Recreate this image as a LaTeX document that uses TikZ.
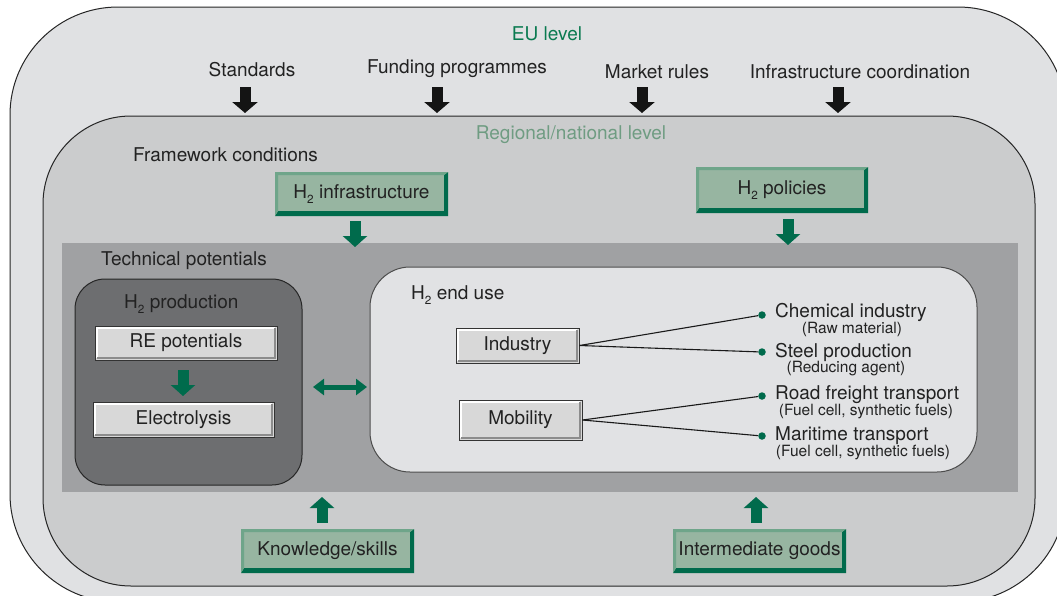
\documentclass[tikz,border=0pt]{standalone}
\usepackage{fontspec}
\setmainfont{TeX Gyre Heros}
\usetikzlibrary{arrows.meta}
\definecolor{outerg}{HTML}{E0E1E3}
\definecolor{innerg}{HTML}{CBCCCD}
\definecolor{techg}{HTML}{A0A1A3}
\definecolor{prodg}{HTML}{6D6E70}
\definecolor{endg}{HTML}{E1E2E4}
\definecolor{boxg}{HTML}{D8D8D8}
\definecolor{gfill}{HTML}{97B5A1}
\definecolor{gdark}{HTML}{006B4C}
\definecolor{glight}{HTML}{6FA58A}
\definecolor{eutxt}{HTML}{0A7A50}
\definecolor{regtxt}{HTML}{6F9C82}
\definecolor{txt}{HTML}{222222}
\newcommand{\Htwo}{H\raisebox{-0.45ex}{\scalebox{0.62}{2}}}
\tikzset{
  lbl/.style={font=\fontsize{19}{22}\selectfont, text=txt, inner sep=0pt, yshift=-2pt},
  sml/.style={font=\fontsize{15.5}{18}\selectfont, text=txt, inner sep=0pt, yshift=-1pt},
  region/.style={draw=black!85, line width=1pt},
  gbox/.style={fill=gfill, inner sep=0pt, font=\fontsize{19}{22}\selectfont, text=txt,
    path picture={
      \fill[gdark] (path picture bounding box.south west) -- (path picture bounding box.south east)
        -- (path picture bounding box.north east) -- ([xshift=-4pt,yshift=-3pt]path picture bounding box.north east)
        -- ([xshift=-4pt,yshift=5pt]path picture bounding box.south east) -- ([xshift=3pt,yshift=5pt]path picture bounding box.south west) -- cycle;
      \fill[glight] (path picture bounding box.south west) -- (path picture bounding box.north west)
        -- (path picture bounding box.north east) -- ([xshift=-4pt,yshift=-3pt]path picture bounding box.north east)
        -- ([xshift=3pt,yshift=-3pt]path picture bounding box.north west) -- ([xshift=3pt,yshift=5pt]path picture bounding box.south west) -- cycle;
    }},
  graybox/.style={fill=boxg, draw=black!80, line width=1pt, inner sep=0pt, font=\fontsize{19}{22}\selectfont, text=txt,
    path picture={
      \draw[white, line width=2.5pt] ([xshift=1.8pt,yshift=1.8pt]path picture bounding box.south west)
        -- ([xshift=1.8pt,yshift=-1.8pt]path picture bounding box.north west) -- ([xshift=-1.8pt,yshift=-1.8pt]path picture bounding box.north east);
      \draw[black!45, line width=2.5pt] ([xshift=1.8pt,yshift=1.8pt]path picture bounding box.south west)
        -- ([xshift=-1.8pt,yshift=1.8pt]path picture bounding box.south east) -- ([xshift=-1.8pt,yshift=-1.8pt]path picture bounding box.north east);
    }},
  dot/.style={circle, fill=gdark, minimum size=7.5pt, inner sep=0pt},
  link/.style={draw=black!90, line width=1.1pt},
  blk/.style={draw=black!92, line width=11pt, -{Triangle[width=25pt,length=11pt]}},
  grn/.style={draw=gdark, line width=11pt, -{Triangle[width=24pt,length=11pt]}},
  dbl/.style={draw=gdark, line width=5pt, {Triangle[width=16pt,length=11pt]}-{Triangle[width=16pt,length=11pt]}},
}
\begin{document}
\begin{tikzpicture}[x=1pt,y=-1pt]
\useasboundingbox (0,0) rectangle (1057,595);
\clip (0,0) rectangle (1057,595);
% regions
\draw[region, fill=outerg, rounded corners=108pt] (10,7) rectangle (1066,602);
\draw[region, fill=innerg, rounded corners=88pt] (43,116) rectangle (1035,586);
\fill[techg] (62,243) rectangle (1018,492);
\draw[region, fill=prodg, rounded corners=30pt] (75,279) rectangle (302,485);
\draw[region, draw=black!70, fill=endg, rounded corners=40pt] (370,267) rectangle (977,472);

% titles
\node[lbl, text=eutxt] (eu) at (547,32) {EU level};
\node[lbl, text=regtxt] (reg) at (571,133) {Regional/national level};
\node[lbl, anchor=west] (fw) at (133,153) {Framework conditions};
\node[lbl, anchor=west] (tp) at (101,259) {Technical potentials};
\node[lbl, anchor=west] (prod) at (124,302) {\Htwo{} production};
\node[lbl, anchor=west] (eus) at (411,293) {\Htwo{} end use};

% EU items
\node[lbl] (std) at (252,68) {Standards};
\node[lbl] (fund) at (457,67) {Funding programmes};
\node[lbl] (mkt) at (657,70) {Market rules};
\node[lbl] (infc) at (860,70) {Infrastructure coordination};
\coordinate (a1s) at (245,87); \coordinate (a1e) at (245,113);
\coordinate (a2s) at (437,87); \coordinate (a2e) at (437,113);
\coordinate (a3s) at (642,87); \coordinate (a3e) at (642,113);
\coordinate (a4s) at (838,87); \coordinate (a4e) at (838,113);
\draw[blk] (a1s) -- (a1e);
\draw[blk] (a2s) -- (a2e);
\draw[blk] (a3s) -- (a3e);
\draw[blk] (a4s) -- (a4e);

% green boxes
\node[gbox, minimum width=173pt, minimum height=44pt] (infra) at (361.5,194) {\Htwo{} infrastructure};
\node[gbox, minimum width=172pt, minimum height=46pt] (pol) at (782,190) {\Htwo{} policies};
\node[gbox, minimum width=173pt, minimum height=44pt] (know) at (327.5,551) {Knowledge/skills};
\node[gbox, minimum width=173pt, minimum height=44pt] (inter) at (759.5,551) {Intermediate goods};
\coordinate (g1s) at (355,221); \coordinate (g1e) at (355,247);
\coordinate (g2s) at (788,219); \coordinate (g2e) at (788,245);
\coordinate (g3s) at (322,523); \coordinate (g3e) at (322,497);
\coordinate (g4s) at (756,523); \coordinate (g4e) at (756,497);
\draw[grn] (g1s) -- (g1e);
\draw[grn] (g2s) -- (g2e);
\draw[grn] (g3s) -- (g3e);
\draw[grn] (g4s) -- (g4e);

% production
\node[graybox, minimum width=182pt, minimum height=34pt] (re) at (186,343) {RE potentials};
\node[graybox, minimum width=181pt, minimum height=35pt] (el) at (183.5,419.5) {Electrolysis};
\coordinate (p1s) at (183,370); \coordinate (p1e) at (183,396);
\draw[grn] (p1s) -- (p1e);
\coordinate (d0a) at (313,387); \coordinate (d0b) at (367,387);
\draw[dbl] (d0a) -- (d0b);

% end use
\node[graybox, minimum width=123pt, minimum height=35pt] (ind) at (517.5,345.5) {Industry};
\node[graybox, minimum width=123pt, minimum height=40pt] (mob) at (520.5,420) {Mobility};
\node[dot] (d1) at (762,315) {};
\node[dot] (d2) at (762,352) {};
\node[dot] (d3) at (762,396) {};
\node[dot] (d4) at (762,436) {};
\draw[link] (ind.east) -- (d1);
\draw[link] (ind.east) -- (d2);
\draw[link] (mob.east) -- (d3);
\draw[link] (mob.east) -- (d4);
\node[lbl, anchor=west] (t1) at (775,310) {Chemical industry};
\node[sml] (s1) at (852,328) {(Raw material)};
\node[lbl, anchor=west] (t2) at (775,350) {Steel production};
\node[sml] (s2) at (846,368) {(Reducing agent)};
\node[lbl, anchor=west] (t3) at (775,393) {Road freight transport};
\node[sml] (s3) at (866,411) {(Fuel cell, synthetic fuels)};
\node[lbl, anchor=west] (t4) at (775,434) {Maritime transport};
\node[sml] (s4) at (863,452) {(Fuel cell, synthetic fuels)};
\end{tikzpicture}
\end{document}
